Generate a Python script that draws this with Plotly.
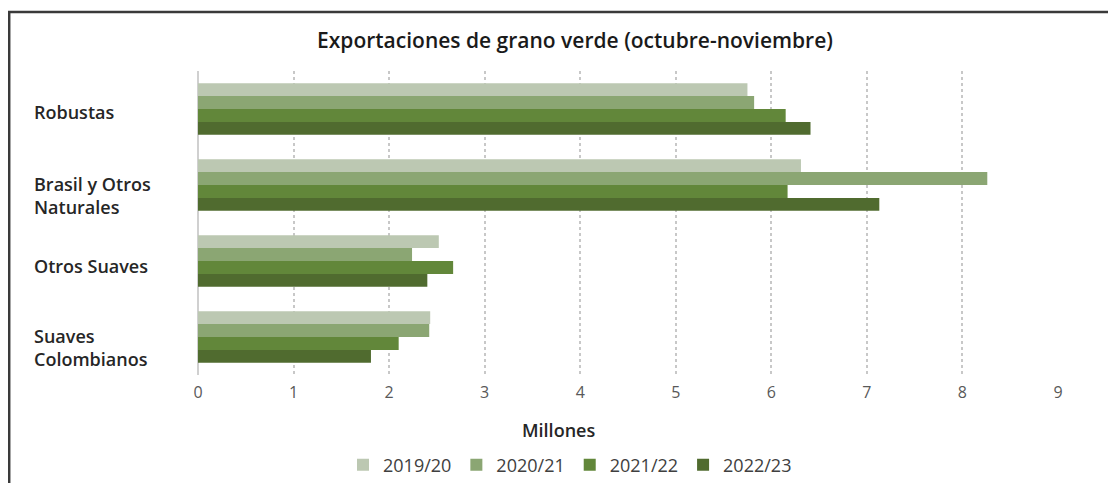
import plotly.graph_objects as go

categories = ["Robustas", "Brasil y Otros Naturales", "Otros Suaves", "Suaves Colombianos"]
category_labels = ["Robustas", "Brasil y Otros<br>Naturales", "Otros Suaves", "Suaves<br>Colombianos"]
series_names = ["2019/20", "2020/21", "2021/22", "2022/23"]
v_2019_20 = [5.75, 6.31, 2.52, 2.43]
v_2020_21 = [5.82, 8.26, 2.24, 2.42]
v_2021_22 = [6.15, 6.17, 2.67, 2.10]
v_2022_23 = [6.41, 7.13, 2.40, 1.81]
x_ticks = [0, 1, 2, 3, 4, 5, 6, 7, 8, 9]

series_values = [v_2019_20, v_2020_21, v_2021_22, v_2022_23]
colors = ["#BCC8B2", "#8BA673", "#62873A", "#506B2F"]

# page body has an 8px margin; work in window pixels and convert
OFF = 8
W, H = 1116 - OFF, 483 - OFF
L, T = 198 - OFF, 71 - OFF
R = W - (1058 - OFF)
B = H - (375 - OFF)
pw, ph = W - L - R, H - T - B


def px(wx):
    return (wx - OFF - L) / pw


def py(wy):
    return (H - B - (wy - OFF)) / ph


fig = go.Figure()
for name, vals, c in zip(series_names, series_values, colors):
    fig.add_trace(go.Bar(
        y=categories, x=vals, name=name, orientation="h",
        marker=dict(color=c, line=dict(width=0)),
    ))

annotations = []
shifts = [-3, -10, -5, -10]
for cat, lab, s in zip(categories, category_labels, shifts):
    annotations.append(dict(
        x=px(32), xref="paper", y=cat, yref="y", text=lab, showarrow=False,
        xanchor="left", yanchor="middle", align="left", yshift=s,
        font=dict(family="Open Sans", size=18, color="#262626", weight=600),
    ))
annotations.append(dict(
    x=px(558), xref="paper", y=py(430), yref="paper", text="Millones", showarrow=False,
    xanchor="center", yanchor="middle",
    font=dict(family="Open Sans", size=18, color="#262626", weight=600),
))

shapes = [
    dict(type="line", xref="paper", yref="paper", x0=px(OFF), x1=px(1120), y0=py(12), y1=py(12),
         line=dict(color="#3a3a3a", width=2.5)),
    dict(type="line", xref="paper", yref="paper", x0=px(9.2), x1=px(9.2), y0=py(11), y1=py(490),
         line=dict(color="#3a3a3a", width=2.5)),
]

fig.update_layout(
    width=W, height=H,
    margin=dict(l=L, r=R, t=T, b=B, autoexpand=False),
    paper_bgcolor="white", plot_bgcolor="white",
    barmode="group", bargap=0.32, bargroupgap=0,
    title=dict(text="Exportaciones de grano verde (octubre-noviembre)",
               x=px(575), xref="paper", xanchor="center",
               y=1 - (41 - OFF) / H, yref="container", yanchor="middle",
               font=dict(family="Open Sans", size=21, color="#1a1a1a", weight=600)),
    xaxis=dict(range=[0, 9.0], tickvals=x_ticks, ticktext=[str(t) for t in x_ticks],
               showgrid=True, gridcolor="#c8c8c8", griddash="dot", gridwidth=1.5,
               zeroline=True, zerolinecolor="#d0d0d0", zerolinewidth=1.5,
               ticks="", tickfont=dict(family="Open Sans", size=16, color="#595959"),
               ticklabelstandoff=6, fixedrange=True, automargin=False),
    yaxis=dict(range=[3.5, -0.5], showticklabels=False, showgrid=False, zeroline=False,
               showline=False, fixedrange=True, automargin=False),
    legend=dict(orientation="h", x=px(570), xanchor="center",
                y=1 - (465 - OFF) / H, yref="container", yanchor="middle",
                font=dict(family="Open Sans", size=18, color="#404040"),
                itemwidth=30, traceorder="normal"),
    annotations=annotations,
    shapes=shapes,
    showlegend=True,
)

fig.write_html("out.html")
